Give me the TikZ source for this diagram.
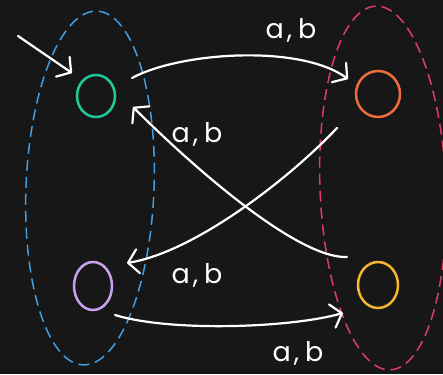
\documentclass[tikz,border=0pt]{standalone}
\usepackage{fontspec}
\setmainfont{Poppins}
\usetikzlibrary{arrows.meta,shapes.geometric}
\definecolor{bg}{HTML}{171717}
\definecolor{stgreen}{HTML}{20C99A}
\definecolor{storange}{HTML}{EE6C3E}
\definecolor{stpurple}{HTML}{C7A2F0}
\definecolor{styellow}{HTML}{F4B62C}
\definecolor{grpblue}{HTML}{409EE2}
\definecolor{grppink}{HTML}{E23A68}
\begin{document}
\begin{tikzpicture}[x=1pt,y=1pt,
  state/.style={ellipse, draw, line width=2.5pt, inner sep=0pt},
  edge/.style={draw=white, line width=2.2pt, line cap=round,
    -{Straight Barb[length=10pt,width=24pt,round]}},
  lbl/.style={text=white, inner sep=0pt, font=\fontsize{27}{27}\selectfont},
  group/.style={line width=1.5pt, dash pattern=on 11pt off 6pt}]

\fill[bg] (0,0) rectangle (443,374);
\useasboundingbox (0,0) rectangle (443,374);

% dashed groupings
\draw[group, draw=grpblue, rotate around={-2.3:(90,186)}]
  (90,186) ellipse [x radius=64pt, y radius=177pt];
\draw[group, draw=grppink, rotate around={2.3:(383,186)}]
  (383,186) ellipse [x radius=63pt, y radius=182pt];

% states
\node[state, draw=stgreen,  minimum width=38pt, minimum height=42pt] (sg) at (96,278) {};
\node[state, draw=storange, minimum width=44pt, minimum height=46pt] (so) at (378,280) {};
\node[state, draw=stpurple, minimum width=38pt, minimum height=48pt] (sp) at (93,88) {};
\node[state, draw=styellow, minimum width=40pt, minimum height=46pt] (sy) at (378,89) {};

% initial arrow
\coordinate (init) at (18,338);
\draw[edge] (init) -- ([shift={(-24,23)}]sg.center);

% transitions
\draw[edge] ([shift={(36,18)}]sg.center) .. controls +(48,26) and +(-48,35) .. ([shift={(-30,15)}]so.center);
\draw[edge] ([shift={(-31,28)}]sy.center) .. controls +(-47,-2) and +(67,-67) .. ([shift={(37,-11)}]sg.center);
\draw[edge] ([shift={(-41,-34)}]so.center) .. controls +(-47,-50) and +(68,11) .. ([shift={(34,23)}]sp.center);
\draw[edge] ([shift={(22,-29)}]sp.center) .. controls +(55,-17) and +(-53,-15) .. ([shift={(-35,-28)}]sy.center);

% labels
\node[lbl] (l1) at (291,344) {a\kern3pt,\kern6pt b};
\node[lbl] (l2) at (197,240) {a\kern3pt,\kern6pt b};
\node[lbl] (l3) at (197,99)  {a\kern3pt,\kern6pt b};
\node[lbl] (l4) at (298,21)  {a\kern3pt,\kern6pt b};
\end{tikzpicture}
\end{document}
